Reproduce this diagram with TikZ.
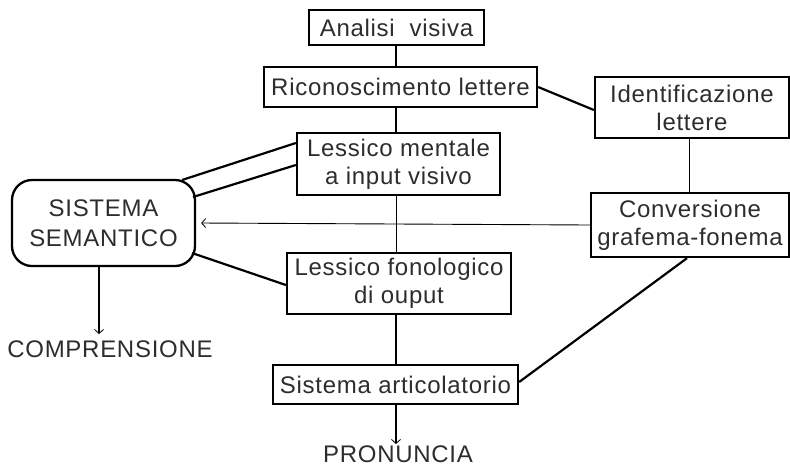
\documentclass[tikz,border=0pt]{standalone}
\usepackage{fontspec}
\setmainfont{Liberation Sans}[LetterSpace=3]
\usetikzlibrary{arrows.meta}
\definecolor{txt}{RGB}{45,45,45}
\begin{document}
\begin{tikzpicture}[x=1pt,y=-1pt,
  every node/.style={font=\fontsize{24}{28}\selectfont, text=txt, inner sep=0pt, align=center},
  box/.style={draw, line width=2.3pt},
  label text/.style={anchor=base, text depth=0pt, text height=17pt},
  thick line/.style={line width=2.2pt},
  thin line/.style={line width=0.9pt},
  tip/.style={-{Straight Barb[length=4pt,width=9pt,line width=0.8pt]}}
]
\useasboundingbox (0,0) rectangle (790,467);
\node[box, minimum width=175, minimum height=35] (av) at (396.5,27.5) {Analisi\ \ visiva};
\node[box, minimum width=273, minimum height=40] (rl) at (400.5,87) {Riconoscimento lettere};
\node[box, minimum width=203, minimum height=62] (lm) at (398.5,164) {Lessico mentale\\a input visivo};
\node[box, minimum width=194, minimum height=61] (il) at (692,107.5) {Identificazione\\lettere};
\node[box, minimum width=198, minimum height=64] (cg) at (690,225) {Conversione\\grafema-fonema};
\node[box, rounded corners=20pt, minimum width=183, minimum height=86, font=\fontsize{24}{30}\selectfont] (ss) at (103.5,223) {SISTEMA\\SEMANTICO};
\node[box, minimum width=224, minimum height=61] (lf) at (399,283.5) {Lessico fonologico\\di ouput};
\node[box, minimum width=245, minimum height=39] (sa) at (395.5,384.5) {Sistema articolatorio};
\node[label text] (co) at (110,357) {COMPRENSIONE};
\node[label text] (pr) at (398,462) {PRONUNCIA};
\coordinate (coend) at (99,334);
\coordinate (prend) at (396,444);
% connectors
\draw[thick line] (av.south -| 396,0) -- (rl.north -| 396,0);
\draw[thick line] (rl.south -| 396,0) -- (lm.north -| 396,0);
\draw[thin line] (lm.south -| 396,0) -- (lf.north -| 396,0);
\draw[thick line] (lf.south -| 396,0) -- (sa.north -| 396,0);
\draw[thick line, tip] (sa.south -| 396,0) -- (prend);
\draw[thick line, tip] (ss.south -| 99,0) -- (coend);
\draw[thick line] (rl.east) -- (il.west |- 0,110);
\draw[thin line] (il.south -| 689,0) -- (cg.north -| 689,0);
\draw[thin line, tip] (cg.west) -- ([xshift=5pt]ss.east);
\draw[thick line] (182,180) -- (lm.west |- 0,143);
\draw[thick line] (193,197) -- (lm.west |- 0,165);
\draw[thick line] (192,253) -- (lf.west |- 0,285);
\draw[thick line] (sa.east |- 0,382) -- (cg.south -| 687,0);
\end{tikzpicture}
\end{document}
